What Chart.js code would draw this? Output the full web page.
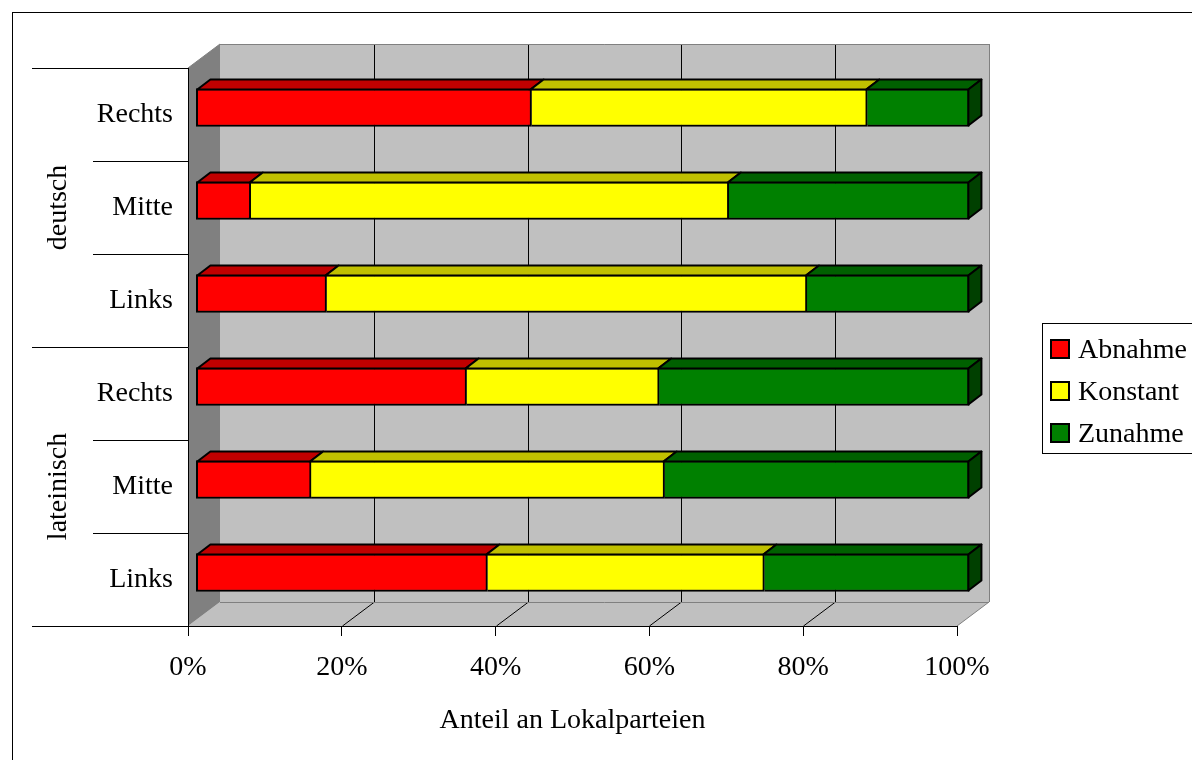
<!DOCTYPE html>
<html>
<head>
<meta charset="utf-8">
<script src="https://cdn.jsdelivr.net/npm/chart.js@4.4.1/dist/chart.umd.min.js"></script>
<style>
  html, body { margin: 0; padding: 0; background: #fff; overflow: hidden; }
  canvas { display: block; }
</style>
</head>
<body>
<canvas id="chart" width="1192" height="760"></canvas>
<script>
// Rows of the chart, top to bottom, and the two script groups they belong to
const categories = ['Rechts', 'Mitte', 'Links', 'Rechts', 'Mitte', 'Links'];
const groups = ['deutsch', 'lateinisch'];

// Share of local parties (%) per row
const abnahme  = [43.4,  7.1, 16.9, 35.0, 14.9, 37.7];
const konstant = [43.4, 61.8, 62.1, 24.9, 45.7, 35.8];
const zunahme  = [13.2, 31.1, 21.0, 40.1, 39.4, 26.5];

const seriesNames = ['Abnahme', 'Konstant', 'Zunahme'];
const xTicks = [0, 20, 40, 60, 80, 100];
const axisTitle = 'Anteil an Lokalparteien';

const FONT = '"Liberation Serif", "Times New Roman", serif';
const FACE  = ['#ff0000', '#ffff00', '#008000'];
const TOP   = ['#c00000', '#c0c000', '#006000'];
const SIDE  = ['#c00000', '#c0c000', '#004000'];

// Oblique projection: depth of the walls and of the bars
const WALL = { dx: 32, dy: -24 };
const BAR = { tx: 6.7, ty: -7, sx: 1.0059, dx: 13, dy: -10 };

function poly(ctx, pts, fill, stroke, lw) {
  ctx.beginPath();
  pts.forEach((p, i) => i ? ctx.lineTo(p[0], p[1]) : ctx.moveTo(p[0], p[1]));
  ctx.closePath();
  if (fill) { ctx.fillStyle = fill; ctx.fill(); }
  if (stroke) { ctx.strokeStyle = stroke; ctx.lineWidth = lw || 1; ctx.stroke(); }
}
function line(ctx, x1, y1, x2, y2, color) {
  ctx.beginPath();
  ctx.moveTo(x1, y1); ctx.lineTo(x2, y2);
  ctx.strokeStyle = color; ctx.lineWidth = 1; ctx.stroke();
}

const plot3d = {
  id: 'plot3d',
  beforeDraw(chart) {
    const { ctx, chartArea: a, scales: { x } } = chart;
    const L = a.left, R = a.right, T = a.top, B = a.bottom;
    const dx = WALL.dx, dy = WALL.dy;
    ctx.save();
    ctx.fillStyle = '#fff';
    ctx.fillRect(0, 0, chart.width, chart.height);
    // outer frame
    ctx.strokeStyle = '#000'; ctx.lineWidth = 1;
    ctx.strokeRect(12.5, 12.5, chart.width + 20, chart.height + 20);
    // back wall, floor, side wall
    ctx.fillStyle = '#c0c0c0';
    ctx.fillRect(L + dx, T + dy, R - L, B - T);
    poly(ctx, [[L, B], [R, B], [R + dx, B + dy], [L + dx, B + dy]], '#c0c0c0');
    poly(ctx, [[L, T], [L + dx, T + dy], [L + dx, B + dy], [L, B]], '#808080');
    // grid on the back wall and on the floor
    xTicks.forEach(v => {
      const px = Math.round(x.getPixelForValue(v)) + 0.5;
      if (v > 0 && v < 100) line(ctx, px + dx, T + dy, px + dx, B + dy, '#000');
      if (v > 0 && v < 100) line(ctx, px, B, px + dx, B + dy, '#000');
    });
    // wall edges
    const g = '#808080';
    line(ctx, L + dx, T + dy + 0.5, R + dx + 0.5, T + dy + 0.5, g);
    line(ctx, R + dx + 0.5, T + dy, R + dx + 0.5, B + dy, g);
    line(ctx, L + dx, B + dy + 0.5, R + dx, B + dy + 0.5, g);
    line(ctx, R + dx, B + dy, R, B, g);
    line(ctx, L, T, L + dx, T + dy, g);
    ctx.restore();
  },
  beforeDatasetsDraw(chart) {
    const ctx = chart.ctx;
    ctx.save();
    ctx.translate(BAR.tx, BAR.ty);
    ctx.scale(BAR.sx, 1);
  },
  afterDatasetsDraw(chart) {
    const ctx = chart.ctx;
    ctx.lineJoin = 'round';
    const n = chart.data.datasets.length;
    for (let i = 0; i < categories.length; i++) {
      for (let d = 0; d < n; d++) {
        const el = chart.getDatasetMeta(d).data[i];
        const p = el.getProps(['x', 'y', 'base', 'height'], true);
        const l = Math.min(p.x, p.base), r = Math.max(p.x, p.base);
        const t = p.y - p.height / 2 + 1, b = p.y + p.height / 2 - 1;
        const lx = d === 0 ? l + 1 : l - 1, rx = r - 1;
        // top face
        poly(ctx, [[lx, t], [lx + BAR.dx, t + BAR.dy], [rx + BAR.dx, t + BAR.dy], [rx, t]], TOP[d], '#000', 2);
        // end face of the last segment
        if (d === n - 1) {
          poly(ctx, [[rx, t], [rx + BAR.dx, t + BAR.dy], [rx + BAR.dx, b + BAR.dy], [rx, b]], SIDE[d], '#000', 2);
        }
      }
    }
    ctx.restore();
  },
  afterDraw(chart) {
    const { ctx, chartArea: a } = chart;
    const step = (a.bottom - a.top) / categories.length;
    const perGroup = categories.length / groups.length;
    ctx.save();
    // row and group separators left of the plot
    for (let k = 0; k <= categories.length; k++) {
      const y = Math.round(a.top + k * step) + 0.5;
      const x0 = k % perGroup === 0 ? 32 : 93;
      line(ctx, x0, y, a.left, y, '#000');
    }
    // group names
    ctx.fillStyle = '#000';
    ctx.font = '28px ' + FONT;
    ctx.textAlign = 'center';
    ctx.textBaseline = 'alphabetic';
    groups.forEach((gName, gi) => {
      const cy = a.top + (gi + 0.5) * perGroup * step;
      ctx.save();
      ctx.translate(66, cy);
      ctx.rotate(-Math.PI / 2);
      ctx.fillText(gName, 0, 0);
      ctx.restore();
    });
    // legend
    const lx = 1042.5, ly = 323.5;
    ctx.fillStyle = '#fff';
    ctx.fillRect(lx, ly, 200, 130);
    ctx.strokeStyle = '#000'; ctx.lineWidth = 1;
    ctx.strokeRect(lx, ly, 200, 130);
    ctx.textAlign = 'left';
    ctx.textBaseline = 'alphabetic';
    chart.data.datasets.forEach((ds, d) => {
      const cy = 349 + d * 42;
      ctx.fillStyle = ds.backgroundColor;
      ctx.fillRect(1050, cy - 10, 20, 20);
      ctx.strokeStyle = '#000'; ctx.lineWidth = 2;
      ctx.strokeRect(1051, cy - 9, 18, 18);
      ctx.fillStyle = '#000';
      ctx.fillText(ds.label, 1078, cy + 9);
    });
    ctx.restore();
  }
};

const series = [abnahme, konstant, zunahme];

new Chart(document.getElementById('chart'), {
  type: 'bar',
  data: {
    labels: categories,
    datasets: series.map((vals, d) => ({
      label: seriesNames[d],
      data: vals,
      backgroundColor: FACE[d],
      borderColor: '#000',
      borderWidth: 2,
      borderSkipped: d === 0 ? false : 'start',
      barThickness: 38,
      clip: false
    }))
  },
  options: {
    responsive: false,
    animation: false,
    devicePixelRatio: 1,
    indexAxis: 'y',
    layout: { padding: { left: 0, top: 68, right: 235, bottom: 0 } },
    plugins: { legend: { display: false }, tooltip: { enabled: false } },
    scales: {
      x: {
        stacked: true,
        min: 0, max: 100,
        afterFit(s) { s.height = 134; },
        afterBuildTicks(s) { s.ticks = xTicks.map(v => ({ value: v })); },
        ticks: {
          callback: v => v + '%',
          color: '#000',
          font: { family: FONT, size: 28 },
          padding: 15,
          maxRotation: 0,
          autoSkip: false
        },
        grid: { drawOnChartArea: false, drawTicks: true, tickLength: 10, color: '#000' },
        border: { display: true, color: '#000', width: 1 },
        title: {
          display: true,
          text: axisTitle,
          color: '#000',
          font: { family: FONT, size: 28 },
          padding: { top: 0, bottom: 23 }
        }
      },
      y: {
        stacked: true,
        afterFit(s) { s.width = 188; },
        ticks: { color: '#000', font: { family: FONT, size: 28 }, padding: 15, autoSkip: false },
        grid: { display: false, drawTicks: false },
        border: { display: true, color: '#000', width: 1 }
      }
    }
  },
  plugins: [plot3d]
});
</script>
</body>
</html>
